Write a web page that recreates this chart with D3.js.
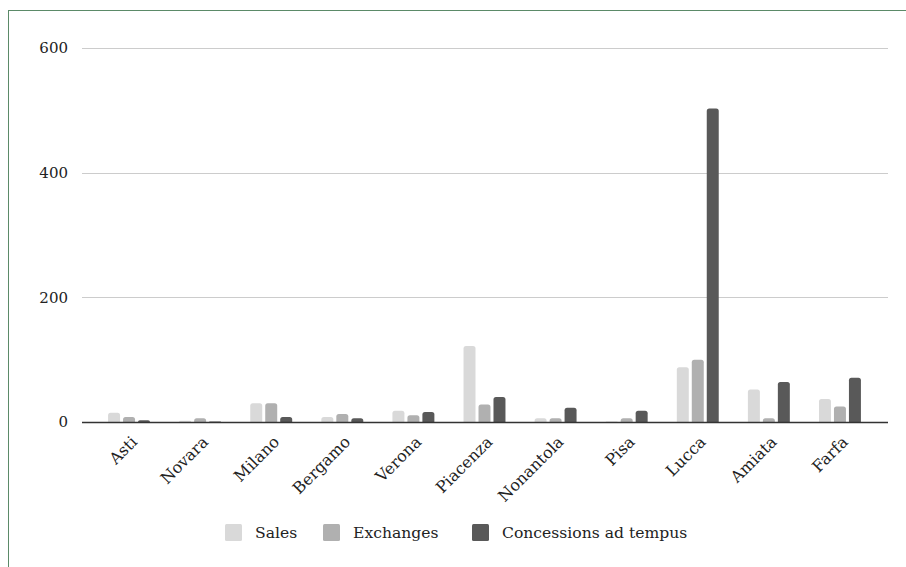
<!DOCTYPE html>
<html>
<head>
<meta charset="utf-8">
<script src="https://cdn.jsdelivr.net/npm/d3@7"></script>
<style>
  html, body { margin: 0; padding: 0; background: #fff; }
  svg { display: block; }
  text { font-family: Georgia, "DejaVu Serif", serif; fill: #222; }
</style>
</head>
<body>
<svg id="chart" width="906" height="567"></svg>
<script>
// Land transactions by place and type
const places = ["Asti", "Novara", "Milano", "Bergamo", "Verona", "Piacenza",
                "Nonantola", "Pisa", "Lucca", "Amiata", "Farfa"];
const sales       = [15, 2, 30, 8, 18, 122, 6, 1, 88, 52, 37];
const exchanges   = [8, 6, 30, 13, 11, 28, 6, 6, 100, 6, 25];
const concessions = [3, 1, 8, 6, 16, 40, 23, 18, 503, 64, 71];
const seriesNames = ["Sales", "Exchanges", "Concessions ad tempus"];
const seriesColors = ["#d9d9d9", "#b0b0b0", "#595959"];
const yTicks = [0, 200, 400, 600];

const rows = places.map((p, i) => ({ place: p, values: [sales[i], exchanges[i], concessions[i]] }));

const svg = d3.select("#chart");

// outer frame
svg.append("rect")
  .attr("x", 8.5).attr("y", 10.5)
  .attr("width", 1000).attr("height", 700)
  .attr("fill", "none").attr("stroke", "#5b8a68").attr("stroke-width", 1);

const plot = { left: 82, right: 888, top: 48, bottom: 422 };

const y = d3.scaleLinear().domain([0, 600]).range([plot.bottom, plot.top]);
const x = d3.scaleBand().domain(places).range([plot.left + 11.5, plot.right - 12.5]).paddingInner(0.41).paddingOuter(0.205);
const xs = d3.scaleBand().domain(d3.range(3)).range([0, x.bandwidth()]).paddingInner(0.2);

// gridlines
const grid = svg.append("g");
grid.selectAll("line").data(yTicks.filter(d => d > 0)).join("line")
  .attr("x1", plot.left).attr("x2", plot.right)
  .attr("y1", d => Math.round(y(d)) + 0.5).attr("y2", d => Math.round(y(d)) + 0.5)
  .attr("stroke", "#cccccc").attr("stroke-width", 1);

// y axis labels
const yAxis = d3.axisLeft(y).tickValues(yTicks).tickSize(0).tickPadding(14).tickFormat(d3.format("d"));
svg.append("g").attr("transform", `translate(${plot.left},0)`).call(yAxis)
  .call(g => g.select(".domain").remove())
  .call(g => g.selectAll("text").attr("font-size", 15).attr("font-family", "Georgia, 'DejaVu Serif', serif").attr("fill", "#222"));

// bars with rounded tops
function barPath(x0, w, y0, y1, r) {
  const h = y0 - y1;
  const rr = Math.min(r, h, w / 2);
  if (h <= 0) return "";
  return `M${x0},${y0}V${y1 + rr}Q${x0},${y1} ${x0 + rr},${y1}H${x0 + w - rr}Q${x0 + w},${y1} ${x0 + w},${y1 + rr}V${y0}Z`;
}

const groups = svg.append("g").selectAll("g").data(rows).join("g")
  .attr("transform", d => `translate(${x(d.place)},0)`);
groups.selectAll("path").data(d => d.values.map((v, k) => ({ v, k }))).join("path")
  .attr("d", d => barPath(xs(d.k), xs.bandwidth(), y(0), y(d.v), 2.5))
  .attr("fill", d => seriesColors[d.k]);

// baseline
svg.append("line")
  .attr("x1", plot.left).attr("x2", plot.right)
  .attr("y1", y(0) + 0.5).attr("y2", y(0) + 0.5)
  .attr("stroke", "#333").attr("stroke-width", 1.5);

// x axis labels, rotated
const xAxis = d3.axisBottom(x).tickSize(0).tickPadding(0);
svg.append("g").attr("transform", `translate(0,${plot.bottom})`).call(xAxis)
  .call(g => g.select(".domain").remove())
  .call(g => g.selectAll("text")
    .attr("font-size", 16)
    .attr("font-family", "Georgia, 'DejaVu Serif', serif")
    .attr("fill", "#222")
    .attr("text-anchor", "end")
    .attr("dy", null)
    .attr("y", 0)
    .attr("transform", "translate(9,21) rotate(-45)"));

// legend
const legendX = [225, 323, 472];
const legend = svg.append("g");
seriesNames.forEach((name, k) => {
  legend.append("rect")
    .attr("x", legendX[k]).attr("y", 524)
    .attr("width", 17).attr("height", 17).attr("rx", 1.5)
    .attr("fill", seriesColors[k]);
  legend.append("text")
    .attr("x", legendX[k] + 30).attr("y", 538)
    .attr("font-size", 15.6)
    .attr("fill", "#222")
    .text(name);
});
</script>
</body>
</html>
